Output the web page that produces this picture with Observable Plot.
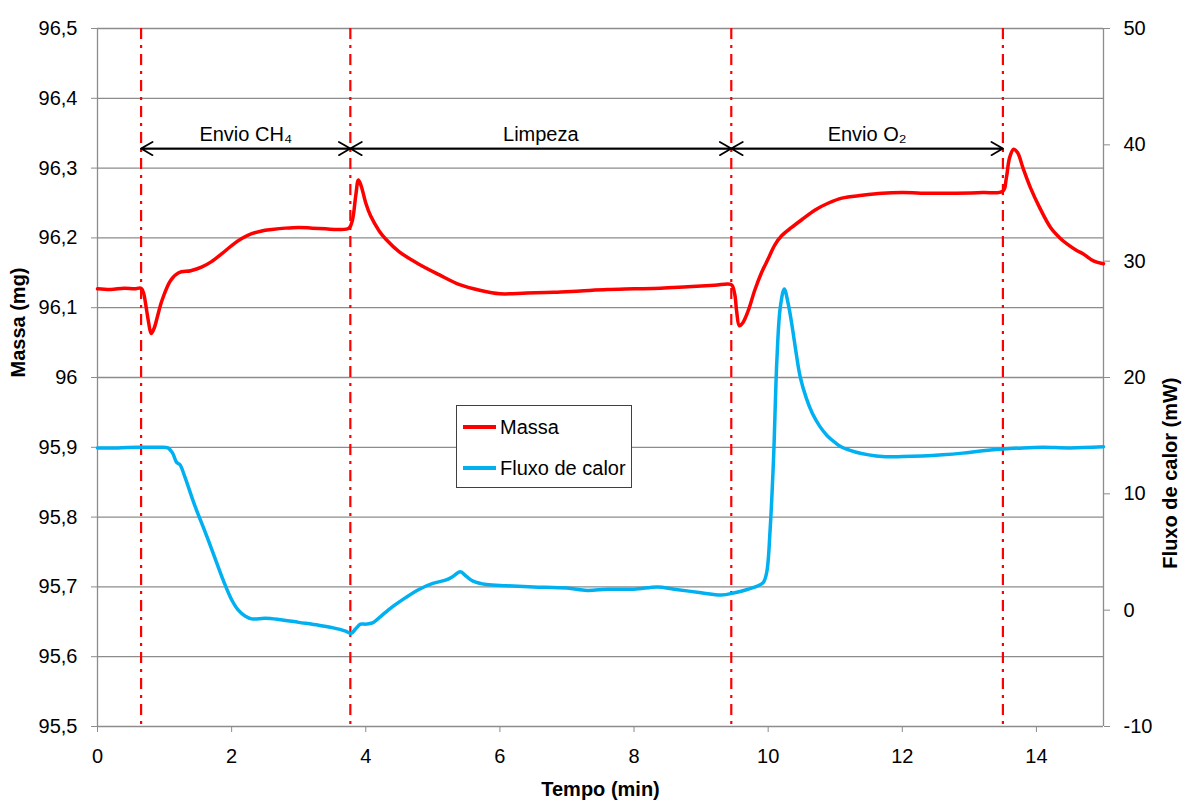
<!DOCTYPE html>
<html>
<head>
<meta charset="utf-8">
<script src="https://cdn.jsdelivr.net/npm/d3@7"></script>
<script src="https://cdn.jsdelivr.net/npm/@observablehq/plot@0.6"></script>
<style>
  body { margin: 0; background: #fff; }
  #chart { position: relative; width: 1182px; height: 803px; overflow: hidden;
           font-family: "Liberation Sans", Arial, sans-serif; color: #000; }
  .legend { position: absolute; left: 456px; top: 405px; width: 174px; height: 81px;
            border: 1.5px solid #404040; background: #fff; }
  .legend .row { position: absolute; left: 0; height: 24px; display: flex; align-items: center; font-size: 20px; }
  .legend .swatch { width: 33px; height: 3.5px; margin-left: 6px; margin-right: 4px; }
</style>
</head>
<body>
<div id="chart"></div>
<script>
// Mass signal (left axis, mg) against time (min)
const massaT = [0, 0.2, 0.4, 0.55, 0.65, 0.69, 0.72, 0.76, 0.8, 0.85, 0.89, 0.96, 1.09, 1.21, 1.39, 1.55, 1.7, 1.85, 2.0, 2.15, 2.3, 2.45, 2.6, 2.8, 3.0, 3.2, 3.4, 3.6, 3.75,
  3.8, 3.85, 3.89, 3.93, 4.0, 4.07, 4.2, 4.3, 4.5, 4.8, 5.1, 5.4, 5.7, 6.0, 6.4, 6.8, 7.2, 7.6, 8.0, 8.4, 8.8, 9.2, 9.45,
  9.5, 9.53, 9.57, 9.62, 9.7, 9.8, 9.9, 10.0, 10.1, 10.2, 10.35, 10.5, 10.7, 10.9, 11.1, 11.4, 11.7, 12.0, 12.4, 12.8, 13.2, 13.5,
  13.55, 13.6, 13.66, 13.72, 13.8, 13.91, 14.05, 14.21, 14.35, 14.46, 14.6, 14.7, 14.85, 15.0];
const massaV = [96.127, 96.126, 96.128, 96.127, 96.128, 96.12, 96.104, 96.08, 96.063, 96.072, 96.086, 96.11, 96.139, 96.15, 96.153, 96.158, 96.166, 96.177, 96.189, 96.199, 96.206, 96.21, 96.212, 96.214, 96.215, 96.214, 96.213, 96.212, 96.214,
  96.225, 96.26, 96.283, 96.275, 96.25, 96.232, 96.21, 96.198, 96.18, 96.162, 96.147, 96.133, 96.125, 96.12, 96.121, 96.122, 96.124, 96.126, 96.127, 96.128, 96.13, 96.132, 96.133,
  96.12, 96.095, 96.074, 96.078, 96.095, 96.125, 96.15, 96.17, 96.19, 96.203, 96.215, 96.226, 96.24, 96.25, 96.257, 96.261, 96.264, 96.265, 96.264, 96.264, 96.265, 96.267,
  96.285, 96.315, 96.327, 96.322, 96.3, 96.272, 96.243, 96.215, 96.2, 96.191, 96.182, 96.177, 96.167, 96.163];

// Heat flow signal (right axis, mW) against time (min)
const fluxoT = [0, 0.3, 0.6, 0.9, 1.05, 1.12, 1.18, 1.23, 1.3, 1.45, 1.6, 1.75, 1.88, 2.0, 2.1, 2.2, 2.3, 2.5, 2.7, 3.0, 3.3, 3.5, 3.7, 3.78,
  3.85, 3.92, 4.0, 4.1, 4.25, 4.4, 4.6, 4.8, 5.0, 5.2, 5.3, 5.41, 5.5, 5.6, 5.8, 6.1, 6.5, 7.0, 7.3, 7.6, 8.0, 8.35, 8.6, 9.0, 9.3, 9.5, 9.7, 9.85, 9.93,
  9.98, 10.03, 10.08, 10.13, 10.18, 10.24, 10.3, 10.36, 10.42, 10.48, 10.57, 10.66, 10.77, 10.88, 11.0, 11.1, 11.3, 11.5, 11.7, 12.0, 12.3, 12.6, 12.9, 13.2, 13.5, 13.8, 14.1, 14.5, 15.0];
const fluxoV = [13.95, 13.95, 14.0, 14.0, 13.95, 13.5, 12.7, 12.5, 11.5, 9.0, 6.8, 4.5, 2.5, 0.9, 0.0, -0.5, -0.75, -0.7, -0.8, -1.05, -1.3, -1.5, -1.8, -2.0,
  -1.6, -1.2, -1.2, -1.1, -0.4, 0.3, 1.1, 1.8, 2.3, 2.6, 2.9, 3.3, 2.9, 2.5, 2.2, 2.1, 2.0, 1.9, 1.7, 1.8, 1.8, 2.0, 1.8, 1.5, 1.3, 1.5, 1.8, 2.1, 2.4,
  3.3, 7.0, 13.0, 21.5, 26.0, 27.6, 26.3, 24.3, 22.0, 20.0, 18.2, 16.9, 15.8, 15.0, 14.4, 14.0, 13.6, 13.35, 13.2, 13.2, 13.25, 13.35, 13.5, 13.7, 13.85, 13.95, 14.0, 13.95, 14.05];

// Phase boundaries (min) and phase names
const phaseLimits = [0.65, 3.77, 9.45, 13.5];
const phaseNames = ["Envio CH₄", "Limpeza", "Envio O₂"];

// Axis ticks
const massaTicks = [95.5, 95.6, 95.7, 95.8, 95.9, 96.0, 96.1, 96.2, 96.3, 96.4, 96.5];
const fluxoTicks = [-10, 0, 10, 20, 30, 40, 50];
const tempoTicks = [0, 2, 4, 6, 8, 10, 12, 14];

// Domains of the two vertical axes
const massaDomain = [95.5, 96.5];
const fluxoDomain = [-10, 50];
const arrowLevel = 96.328;
const labelLevel = 96.348;

// Heat flow is drawn on the mass scale through a linear mapping
const fluxoToMassa = d3.scaleLinear().domain(fluxoDomain).range(massaDomain);

const massa = massaT.map((t, i) => ({t, v: massaV[i]}));
const fluxo = fluxoT.map((t, i) => ({t, v: fluxoToMassa(fluxoV[i])}));
const phases = phaseNames.map((name, i) => ({name, a: phaseLimits[i], b: phaseLimits[i + 1]}));

const grid = "#8c8c8c";
const fmtMassa = d => String(+d.toFixed(1)).replace(".", ",");

const plot = Plot.plot({
  width: 1182,
  height: 803,
  marginLeft: 97,
  marginRight: 79,
  marginTop: 28,
  marginBottom: 77,
  style: {fontFamily: "'Liberation Sans', Arial, sans-serif", fontSize: "20px", color: "#000", background: "#fff"},
  x: {domain: [0, 15]},
  y: {domain: massaDomain},
  marks: [
    Plot.ruleY(massaTicks, {stroke: grid, strokeWidth: 1.3}),
    Plot.ruleX([0, 15], {stroke: grid, strokeWidth: 1.3}),
    Plot.axisX(tempoTicks, {tickSize: 6, tickPadding: 16, stroke: grid, label: null, fontSize: 20}),
    Plot.axisY(massaTicks, {anchor: "left", tickSize: 6, tickPadding: 14, stroke: grid, tickFormat: fmtMassa, label: null, fontSize: 20}),
    Plot.axisY(fluxoTicks.map(f => fluxoToMassa(f)), {anchor: "right", tickSize: 6, tickPadding: 14, stroke: grid,
      tickFormat: d => String(Math.round(fluxoToMassa.invert(d))), label: null, fontSize: 20}),
    Plot.ruleX(phaseLimits, {stroke: "#ff0000", strokeWidth: 2.2, strokeDasharray: "11,6,3,6"}),
    Plot.line(massa, {x: "t", y: "v", stroke: "#ff0000", strokeWidth: 3.5, curve: "catmull-rom"}),
    Plot.line(fluxo, {x: "t", y: "v", stroke: "#00b0f0", strokeWidth: 3.5, curve: "catmull-rom"}),
    // double-headed arrows spanning each phase
    Plot.arrow(phases, {x1: "a", x2: "b", y1: () => arrowLevel, y2: () => arrowLevel, stroke: "#000", strokeWidth: 1.8, headLength: 11, headAngle: 60}),
    Plot.arrow(phases, {x1: "b", x2: "a", y1: () => arrowLevel, y2: () => arrowLevel, stroke: "#000", strokeWidth: 1.8, headLength: 11, headAngle: 60}),
    Plot.text(phases, {x: d => (d.a + d.b) / 2, y: () => labelLevel, text: "name", fontSize: 20, fill: "#000"}),
    // axis titles
    Plot.text(["Massa (mg)"], {frameAnchor: "left", rotate: -90, dx: -79, fontWeight: "bold", fontSize: 20, fill: "#000"}),
    Plot.text(["Fluxo de calor (mW)"], {frameAnchor: "right", rotate: -90, dx: 67, fontWeight: "bold", fontSize: 20, fill: "#000"}),
    Plot.text(["Tempo (min)"], {frameAnchor: "bottom", dy: 69, fontWeight: "bold", fontSize: 20, fill: "#000"})
  ]
});

const chart = document.getElementById("chart");
chart.appendChild(plot);

// Legend box drawn over the plot area
const legendItems = [{label: "Massa", color: "#ff0000"}, {label: "Fluxo de calor", color: "#00b0f0"}];
const legend = d3.select(chart).append("div").attr("class", "legend");
legendItems.forEach((item, i) => {
  const row = legend.append("div").attr("class", "row").style("top", (9 + i * 41) + "px");
  row.append("div").attr("class", "swatch").style("background", item.color);
  row.append("span").text(item.label);
});
</script>
</body>
</html>
